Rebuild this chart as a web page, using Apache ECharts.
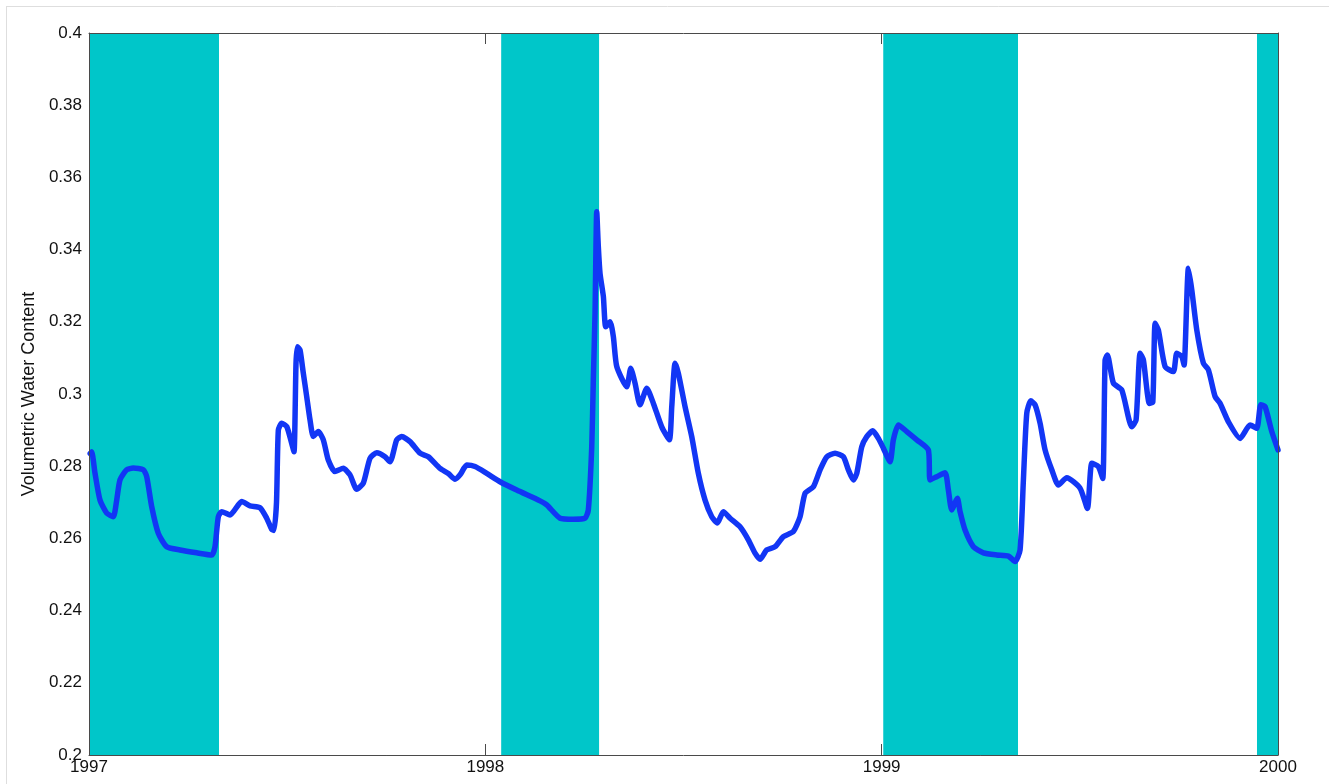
<!DOCTYPE html>
<html>
<head>
<meta charset="utf-8">
<script src="https://cdn.jsdelivr.net/npm/echarts@6/dist/echarts.min.js"></script>
<style>
html,body{margin:0;padding:0;background:#fff;}
#chart{width:1329px;height:784px;}
</style>
</head>
<body>
<div id="chart"></div>
<script>
// Decimal years for the soil moisture trace
const years = [
1997.003,1997.0068,1997.0151,1997.0278,1997.0447,1997.0613,1997.0699,1997.0782,1997.0951,1997.1118,
1997.137,1997.1456,1997.1582,1997.1749,1997.1961,1997.2296,1997.2718,1997.3096,1997.3179,1997.3263,
1997.3348,1997.3558,1997.3853,1997.4063,1997.4315,1997.4484,1997.461,1997.4668,1997.4731,1997.4777,
1997.4862,1997.4989,1997.5115,1997.5173,1997.5223,1997.5256,1997.5324,1997.5408,1997.5493,1997.5577,
1997.566,1997.5786,1997.5912,1997.6038,1997.6207,1997.6417,1997.6586,1997.6755,1997.6921,1997.7091,
1997.726,1997.7469,1997.7595,1997.7764,1997.789,1997.81,1997.8352,1997.8562,1997.8857,1997.9066,
1997.9235,1997.9362,1997.9531,1997.974,1998.0035,1998.0371,1998.0792,1998.138,1998.1549,1998.1885,
1998.2221,1998.2516,1998.2599,1998.2685,1998.2725,1998.2768,1998.2811,1998.2851,1998.2894,1998.2978,
1998.3038,1998.3147,1998.323,1998.3316,1998.3568,1998.3669,1998.3777,1998.3904,1998.4073,1998.424,
1998.4451,1998.4643,1998.4704,1998.4787,1998.487,1998.5039,1998.5208,1998.5375,1998.5544,1998.5713,
1998.5854,1998.6005,1998.6175,1998.6427,1998.6636,1998.6805,1998.6932,1998.71,1998.7311,1998.752,
1998.7772,1998.7941,1998.8067,1998.8277,1998.8446,1998.8615,1998.8824,1998.9034,1998.916,1998.9286,
1998.9372,1998.9498,1998.9624,1998.9776,1998.9917,1999.0043,1999.0212,1999.0295,1999.0421,1999.0633,
1999.0886,1999.1178,1999.1221,1999.139,1999.16,1999.1683,1999.1769,1999.191,1999.1978,1999.2104,
1999.2314,1999.2566,1999.2904,1999.3197,1999.3366,1999.3492,1999.3576,1999.3661,1999.3762,1999.3871,
1999.3997,1999.4123,1999.4292,1999.4459,1999.4671,1999.5006,1999.5191,1999.5302,1999.5468,1999.5579,
1999.5637,1999.5695,1999.5847,1999.6059,1999.6311,1999.6419,1999.652,1999.6604,1999.6755,1999.6841,
1999.6899,1999.6982,1999.7151,1999.7361,1999.7446,1999.7572,1999.7631,1999.7739,1999.7825,1999.7951,
1999.8118,1999.8244,1999.8413,1999.8539,1999.8749,1999.9044,1999.9296,1999.9465,1999.9566,1999.9674,
1999.9843,2000.0
];
// Volumetric water content values
const waterContent = [
0.2835,0.284,0.2781,0.2706,0.267,0.266,0.2706,0.2762,0.279,0.2795,
0.279,0.2771,0.2688,0.2614,0.2577,0.2568,0.256,0.2554,0.2577,0.266,
0.2674,0.2665,0.2702,0.269,0.2685,0.2656,0.2625,0.2622,0.27,0.29,
0.2919,0.291,0.2863,0.284,0.3085,0.3131,0.3122,0.3057,0.2993,0.2928,
0.2882,0.2896,0.2873,0.2817,0.2785,0.2794,0.2776,0.2736,0.2753,0.2822,
0.2837,0.2826,0.2812,0.2873,0.2882,0.2868,0.2836,0.2826,0.2794,0.278,
0.2764,0.2776,0.2803,0.2799,0.278,0.2757,0.2734,0.2704,0.2693,0.2656,
0.2653,0.2656,0.2679,0.2854,0.3039,0.3224,0.3505,0.3408,0.3334,0.327,
0.3186,0.32,0.3159,0.3076,0.302,0.3071,0.303,0.297,0.3016,0.2974,
0.2909,0.2873,0.2965,0.3085,0.3057,0.2965,0.2882,0.278,0.2706,0.266,
0.2643,0.2674,0.2656,0.2632,0.2596,0.2559,0.2542,0.2568,0.2577,0.2605,
0.2619,0.266,0.2725,0.2743,0.279,0.2826,0.2836,0.2826,0.279,0.2762,
0.278,0.2854,0.2882,0.2898,0.2877,0.285,0.2812,0.2873,0.2914,0.2896,
0.2873,0.2845,0.2762,0.2771,0.2782,0.2734,0.2679,0.2711,0.2674,0.2623,
0.2577,0.256,0.2554,0.2551,0.2536,0.2568,0.2762,0.2947,0.2981,0.297,
0.2919,0.2845,0.279,0.2748,0.2768,0.2739,0.2683,0.2808,0.2799,0.2766,
0.3094,0.3108,0.303,0.3011,0.2909,0.2928,0.3113,0.3094,0.2974,0.2978,
0.3196,0.3177,0.3076,0.3062,0.3113,0.3104,0.308,0.3348,0.3288,0.3177,
0.3085,0.3067,0.2993,0.2974,0.2923,0.2877,0.2914,0.2905,0.297,0.2965,
0.2896,0.2845
];
// Shaded periods (decimal years)
const bandStarts = [1997.0, 1998.04, 1999.004, 1999.947];
const bandEnds   = [1997.328, 1998.287, 1999.344, 2000.0];
// Axis ticks
const xTicks = [1997, 1998, 1999, 2000];
const yMin = 0.2, yMax = 0.4, yStep = 0.02;

const lineData = years.map((y, i) => [y, waterContent[i]]);
const bands = bandStarts.map((s, i) => [{xAxis: s}, {xAxis: bandEnds[i]}]);

const chart = echarts.init(document.getElementById('chart'), null, {renderer: 'canvas'});
const axisColor = '#4a4a4a';
const font = '"Liberation Sans", Arial, sans-serif';
chart.setOption({
  animation: false,
  backgroundColor: '#ffffff',
  grid: {left: 89, right: 51, top: 33, bottom: 29, containLabel: false},
  graphic: [
    {type: 'line', shape: {x1: 6, y1: 6.5, x2: 1329, y2: 6.5}, style: {stroke: '#dedede', lineWidth: 1}, silent: true},
    {type: 'line', shape: {x1: 6.5, y1: 6, x2: 6.5, y2: 784}, style: {stroke: '#dedede', lineWidth: 1}, silent: true}
  ],
  xAxis: [
    {
      type: 'value', min: xTicks[0], max: xTicks[xTicks.length - 1], interval: 1, position: 'bottom', z: 10,
      axisLine: {show: true, lineStyle: {color: axisColor, width: 1}},
      axisTick: {show: true, inside: true, length: 11, lineStyle: {color: axisColor}},
      axisLabel: {show: true, color: '#111', fontSize: 17, fontFamily: font, margin: 4, formatter: v => String(v)},
      splitLine: {show: false}
    },
    {
      type: 'value', min: xTicks[0], max: xTicks[xTicks.length - 1], interval: 1, position: 'top', z: 10,
      axisLine: {show: true, lineStyle: {color: axisColor, width: 1}},
      axisTick: {show: true, inside: true, length: 11, lineStyle: {color: axisColor}},
      axisLabel: {show: false},
      splitLine: {show: false}
    }
  ],
  yAxis: [
    {
      type: 'value', min: yMin, max: yMax, interval: yStep, position: 'left', z: 10,
      name: 'Volumetric Water Content', nameLocation: 'middle', nameGap: 45, nameRotate: 90,
      nameTextStyle: {color: '#111', fontSize: 18, fontFamily: font},
      axisLine: {show: true, lineStyle: {color: axisColor, width: 1}},
      axisTick: {show: false},
      axisLabel: {show: true, color: '#111', fontSize: 17, fontFamily: font, margin: 7,
        formatter: v => String(Math.round(v * 100) / 100)},
      splitLine: {show: false}
    },
    {
      type: 'value', min: yMin, max: yMax, interval: yStep, position: 'right', z: 10,
      axisLine: {show: true, lineStyle: {color: axisColor, width: 1}},
      axisTick: {show: false}, axisLabel: {show: false}, splitLine: {show: false}
    }
  ],
  series: [
    {
      type: 'line', data: [], z: 1, silent: true,
      markArea: {silent: true, itemStyle: {color: '#00c6c9', opacity: 1}, data: bands}
    },
    {
      type: 'line', data: lineData, z: 3, showSymbol: false, smooth: 0.2,
      lineStyle: {color: '#1236f5', width: 5.5, join: 'round', cap: 'round'},
      itemStyle: {color: '#1236f5'}
    }
  ]
});
</script>
</body>
</html>
